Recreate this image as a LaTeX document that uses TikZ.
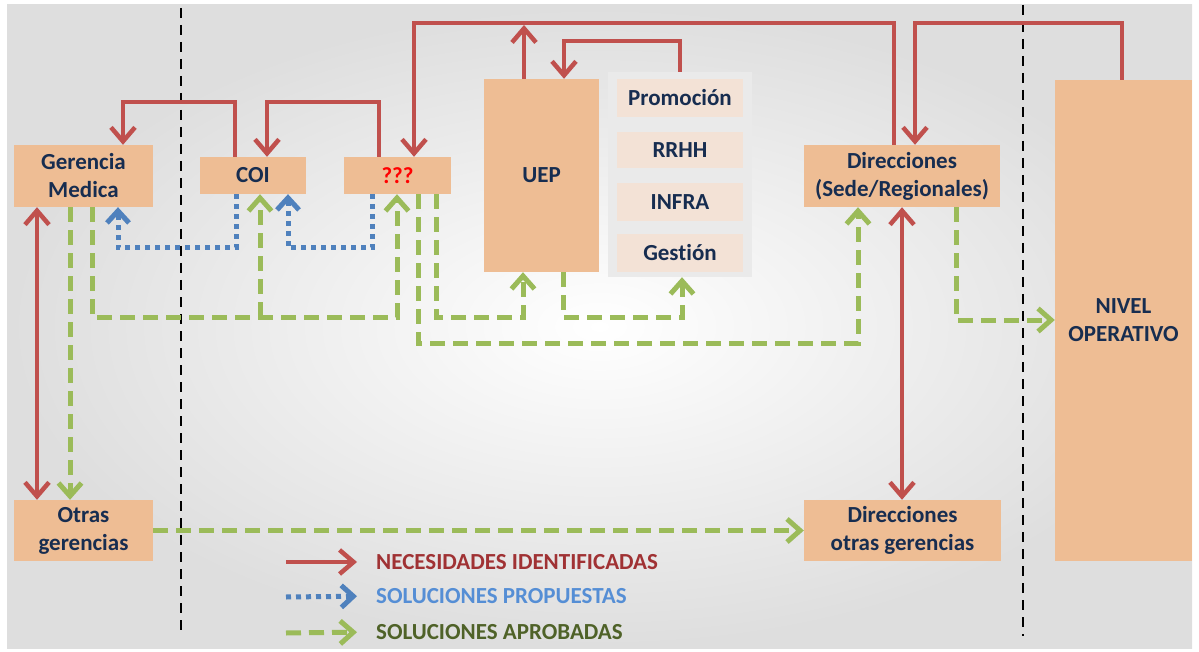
\documentclass[tikz,border=0pt]{standalone}
\usepackage{fontspec}
\setmainfont{Carlito}[Ligatures=CommonOff]
\usetikzlibrary{arrows.meta}
\definecolor{boxc}{RGB}{238,189,148}
\definecolor{subc}{RGB}{243,226,214}
\definecolor{panelc}{RGB}{234,234,234}
\definecolor{navy}{RGB}{23,45,80}
\definecolor{needc}{RGB}{192,80,77}
\definecolor{propc}{RGB}{79,129,189}
\definecolor{aprc}{RGB}{155,187,89}
\definecolor{needt}{RGB}{160,50,52}
\definecolor{propt}{RGB}{85,142,213}
\definecolor{aprt}{RGB}{79,98,40}
\tikzset{
  box/.style={fill=boxc, draw=none, text=navy, font=\bfseries\fontsize{23}{28}\selectfont, align=center, inner sep=0pt},
  subbox/.style={fill=subc, draw=none, text=navy, font=\bfseries\fontsize{23}{28}\selectfont, align=center, inner sep=0pt, minimum width=126pt},
  need/.style={draw=needc, line width=4.5pt, -{Straight Barb[length=14pt,width=24pt]}},
  needboth/.style={draw=needc, line width=4.5pt, {Straight Barb[length=14pt,width=24pt]}-{Straight Barb[length=14pt,width=24pt]}},
  prop/.style={draw=propc, line width=5pt, dash pattern=on 5pt off 5pt, -{Straight Barb[length=12pt,width=22pt]}},
  apr/.style={draw=aprc, line width=5pt, dash pattern=on 15pt off 8pt, -{Straight Barb[length=13pt,width=23pt]}},
  sep/.style={draw=black, line width=2.5pt, dash pattern=on 10pt off 7pt},
  legtext/.style={anchor=west, inner sep=0pt, font=\bfseries\fontsize{23}{27}\selectfont}
}
\begin{document}
\begin{tikzpicture}[x=1pt,y=-1pt]
\useasboundingbox (0,0) rectangle (1199,652);
\shade[inner color=white, outer color=black!13] (7,5) rectangle (1192,648);
% separators
\coordinate (s1a) at (181,8); \coordinate (s1b) at (181,630);
\coordinate (s2a) at (1023,5); \coordinate (s2b) at (1023,636);
\draw[sep] (s1a) -- (s1b);
\draw[sep] (s2a) -- (s2b);
% nodes
\node[box, minimum width=139pt, minimum height=62pt] (gm) at (83.5,176) {Gerencia\\Medica};
\node[box, minimum width=106pt, minimum height=37pt] (coi) at (253,175.5) {COI};
\node[box, minimum width=107pt, minimum height=37pt, text=red] (q) at (397.5,175.5) {???};
\node[box, minimum width=115pt, minimum height=193pt] (uep) at (541.5,175.5) {UEP};
\node[fill=panelc, minimum width=144pt, minimum height=205pt, inner sep=0pt] (panel) at (680,174.5) {};
\node[subbox, minimum height=38pt] (prom) at (680,98) {Promoción};
\node[subbox, minimum height=36pt] (rrhh) at (680,150) {RRHH};
\node[subbox, minimum height=38pt] (infra) at (680,202) {INFRA};
\node[subbox, minimum height=38pt] (gest) at (680,253) {Gestión};
\node[box, minimum width=196pt, minimum height=62pt] (dir) at (902,176) {Direcciones\\(Sede/Regionales)};
\node[box, minimum width=137pt, minimum height=481pt] (nivel) at (1123.5,320.5) {NIVEL\\OPERATIVO};
\node[box, minimum width=139pt, minimum height=61pt] (otras) at (83.5,530.5) {Otras\\gerencias};
\node[box, minimum width=197pt, minimum height=61pt] (diro) at (902.5,530.5) {Direcciones\\otras gerencias};
% red: necesidades
\draw[need] (235,0 |- coi.north) |- (123,102) -- (123,0 |- gm.north);
\draw[need] (379,0 |- q.north) |- (267,102) -- (267,0 |- coi.north);
\draw[need] (894,0 |- dir.north) |- (414,23) -- (414,0 |- q.north);
\coordinate (uept) at (524,25);
\draw[need] (524,0 |- uep.north) -- (uept);
\draw[need] (680,0 |- panel.north) |- (564,41) -- (564,0 |- uep.north);
\draw[need] (1122,0 |- nivel.north) |- (915,23) -- (915,0 |- dir.north);
\draw[needboth] (37,0 |- gm.south) -- (37,0 |- otras.north);
\draw[needboth] (902,0 |- dir.south) -- (902,0 |- diro.north);
% blue: propuestas
\draw[prop] (236,0 |- coi.south) |- (118,248) -- (118,0 |- gm.south);
\draw[prop] (372,0 |- q.south) |- (288,248) -- (288,0 |- coi.south);
% green: aprobadas
\draw[apr] (70,0 |- gm.south) -- (70,0 |- otras.north);
\draw[apr] (92,0 |- gm.south) |- (397,317) -- (397,0 |- q.south);
\coordinate (j1) at (260,317);
\draw[apr] (j1) -- (260,0 |- coi.south);
\draw[apr] (418,0 |- q.south) |- (858,343) -- (858,0 |- dir.south);
\draw[apr] (436,0 |- q.south) |- (523,317) -- (523,0 |- uep.south);
\draw[apr] (563,0 |- uep.south) |- (682,317) -- (682,0 |- panel.south);
\draw[apr] (956,0 |- dir.south) |- (nivel.west |- 0,320);
\draw[apr] (otras.east) -- (diro.west);
% legend
\node[legtext, text=needt] (lt1) at (376,562) {NECESIDADES IDENTIFICADAS};
\node[legtext, text=propt] (lt2) at (376,596) {SOLUCIONES PROPUESTAS};
\node[legtext, text=aprt] (lt3) at (376,632) {SOLUCIONES APROBADAS};
\coordinate (l1) at (286,562);
\coordinate (l2) at (286,597);
\coordinate (l3) at (286,633);
\draw[need, shorten >=19pt] (l1) -- (lt1.west);
\draw[prop, shorten >=19pt] (l2) -- (lt2.west);
\draw[apr, shorten >=19pt] (l3) -- (lt3.west);
\end{tikzpicture}
\end{document}
